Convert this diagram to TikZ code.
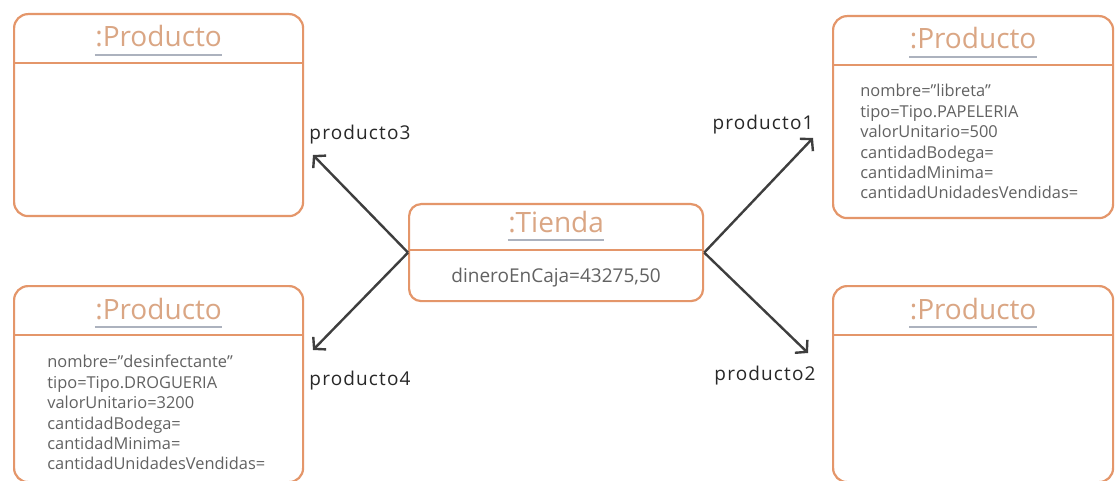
\documentclass[tikz,border=0pt]{standalone}
\usepackage{fontspec}
\setmainfont{Open Sans}
\usepackage{xcolor}
\usepackage{tikz}
\usetikzlibrary{arrows.meta, positioning, calc}
\definecolor{boxLine}{RGB}{228,150,106}
\definecolor{titleInk}{RGB}{218,166,132}
\definecolor{underInk}{RGB}{172,178,190}
\definecolor{attrInk}{RGB}{98,98,98}
\definecolor{linkInk}{RGB}{62,62,62}
\definecolor{labelInk}{RGB}{40,40,40}
\tikzset{
  objbox/.style={
    draw=boxLine,
    line width=1.1pt,
    rounded corners=7pt,
    fill=white,
    anchor=north west,
    minimum height=101pt
  },
  objtitle/.style={
    text=titleInk,
    font=\fontsize{14}{16}\selectfont,
    anchor=base,
    inner sep=0pt
  },
  divider/.style={draw=boxLine, line width=1.1pt},
  underline/.style={draw=underInk, line width=0.6pt},
  attrs/.style={
    text=attrInk,
    font=\fontsize{8.2}{10.2}\selectfont,
    align=left,
    anchor=north west,
    inner sep=0pt
  },
  link/.style={-{Straight Barb[length=4pt,width=9pt]}, line width=1.2pt, draw=linkInk},
  rolename/.style={
    text=labelInk,
    anchor=base,
    inner sep=0pt,
    font=\fontsize{9.5}{11}\selectfont\addfontfeatures{LetterSpace=6}
  }
}

\begin{document}
\begin{tikzpicture}[x=0.5pt, y=-0.5pt]
  \fill[white] (0,0) rectangle (1115,481);
  \useasboundingbox (0,0) rectangle (1115,481);

  % objects
  \node[objbox, minimum width=144.5pt] (prod3) at (13,13) {};
  \node[objbox, minimum width=144.5pt, minimum height=98pt] (prod4) at (13,285) {};
  \node[objbox, minimum width=140pt] (prod1) at (832,15) {};
  \node[objbox, minimum width=140pt, minimum height=98pt] (prod2) at (832,285) {};
  \node[objbox, minimum width=147pt, minimum height=48.5pt, rounded corners=6pt] (tienda) at (408,203) {};

  % headers
  \foreach \obj/\name in {prod3/:Producto, prod4/:Producto, prod1/:Producto, prod2/:Producto} {
    \node[objtitle] (\obj-title) at ($(\obj.north)+(0,34)$) {\name};
    \draw[underline] ([yshift=-4pt]\obj-title.base west) -- ([yshift=-4pt]\obj-title.base east);
    \draw[divider] ([yshift=-25pt]\obj.north west) -- ([yshift=-25pt]\obj.north east);
  }
  \node[objtitle] (tienda-title) at ($(tienda.north)+(0,30)$) {:Tienda};
  \draw[underline] ([yshift=-3.5pt]tienda-title.base west) -- ([yshift=-3.5pt]tienda-title.base east);
  \draw[divider] ([yshift=-23.5pt]tienda.north west) -- ([yshift=-23.5pt]tienda.north east);

  % attributes
  \node[attrs] (prod4-attrs) at ($(prod4.north west)+(34,70)$) {nombre="desinfectante"\\tipo=Tipo.DROGUERIA\\valorUnitario=3200\\cantidadBodega=\\cantidadMinima=\\cantidadUnidadesVendidas=};
  \node[attrs] (prod1-attrs) at ($(prod1.north west)+(28,69)$) {nombre="libreta"\\tipo=Tipo.PAPELERIA\\valorUnitario=500\\cantidadBodega=\\cantidadMinima=\\cantidadUnidadesVendidas=};
  \node[text=attrInk, font=\fontsize{9.5}{11}\selectfont, anchor=base] (tienda-attrs) at ($(tienda.north)+(0,79)$) {dineroEnCaja=43275,50};

  % links
  \coordinate (end3) at (313,155);
  \coordinate (end4) at (313,350);
  \coordinate (end1) at (813,138);
  \coordinate (end2) at (808,353);
  \draw[link] (tienda.west) -- (end3);
  \draw[link] (tienda.west) -- (end4);
  \draw[link] (tienda.east) -- (end1);
  \draw[link] (tienda.east) -- (end2);

  \node[rolename] (role3) at (360,140) {producto3};
  \node[rolename] (role4) at (360,385) {producto4};
  \node[rolename] (role1) at (763,130) {producto1};
  \node[rolename] (role2) at (765,380) {producto2};
\end{tikzpicture}
\end{document}
